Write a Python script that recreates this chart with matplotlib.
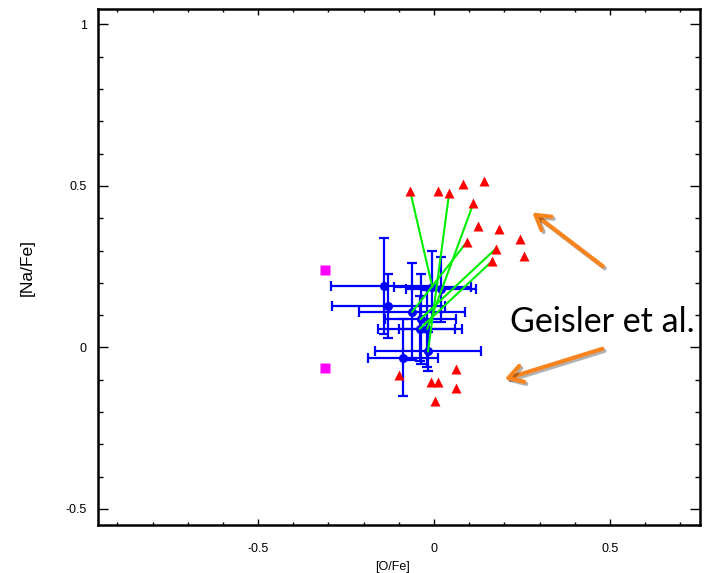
import matplotlib
matplotlib.use("Agg")
import matplotlib.pyplot as plt
import matplotlib.patheffects as pe
from matplotlib.ticker import MultipleLocator

# Geisler et al. stars (red triangles)
geisler_ofe = [-0.068, 0.012, 0.043, 0.083, 0.143, 0.112, 0.124, 0.184, 0.093, 0.175,
               0.243, 0.255, 0.165, -0.099, -0.009, 0.012, 0.063, 0.063, 0.002]
geisler_nafe = [0.485, 0.485, 0.477, 0.506, 0.516, 0.446, 0.376, 0.366, 0.326, 0.305,
                0.336, 0.284, 0.267, -0.087, -0.107, -0.107, -0.067, -0.126, -0.167]

# this work (blue points with errors)
blue_ofe = [-0.142, -0.130, -0.062, -0.038, -0.040, -0.019, -0.017, -0.088, -0.005, 0.020]
blue_nafe = [0.190, 0.128, 0.110, 0.088, 0.058, 0.058, -0.012, -0.032, 0.188, 0.180]
blue_ofe_err = [0.15, 0.16, 0.15, 0.10, 0.12, 0.08, 0.15, 0.10, 0.11, 0.10]
blue_nafe_err = [0.15, 0.10, 0.15, 0.14, 0.10, 0.12, 0.06, 0.12, 0.11, 0.10]

# magenta squares
mag_ofe = [-0.31, -0.31]
mag_nafe = [0.239, -0.0625]

# same star in both samples: (blue index, geisler index)
links = [(8, 0), (6, 2), (5, 5), (2, 8), (3, 9), (4, 12)]

fig = plt.figure(figsize=(7.06, 5.73), dpi=100)
ax = fig.add_axes([0.1388, 0.0838, 0.8527, 0.9000])

for b, g in links:
    ax.plot([blue_ofe[b], geisler_ofe[g]], [blue_nafe[b], geisler_nafe[g]],
            color="#00ee00", lw=1.5, zorder=3)

ax.errorbar(blue_ofe, blue_nafe, xerr=blue_ofe_err, yerr=blue_nafe_err,
            fmt="o", color="#0000ff", ms=5.5, elinewidth=1.6, capsize=3.5,
            capthick=1.6, zorder=2)
ax.plot(geisler_ofe, geisler_nafe, "^", color="#ff0000", ms=6.5, mec="none", zorder=4)
ax.plot(mag_ofe, mag_nafe, "s", color="#ff00ff", ms=6.5, mec="none", zorder=4)

ax.set_xlim(-0.955, 0.756)
ax.set_ylim(-0.55, 1.047)

ax.set_xticks([-0.5, 0, 0.5])
ax.set_xticklabels(["-0.5", "0", "0.5"])
ax.set_yticks([-0.5, 0, 0.5, 1])
ax.set_yticklabels(["-0.5", "0", "0.5", "1"])
ax.xaxis.set_minor_locator(MultipleLocator(0.1))
ax.yaxis.set_minor_locator(MultipleLocator(0.1))
ax.tick_params(axis="both", which="both", direction="in", top=True, right=True,
               width=1, labelsize=9)
ax.tick_params(axis="x", which="major", length=4.5, pad=13)
ax.tick_params(axis="x", which="minor", length=2.2)
ax.tick_params(axis="y", which="major", length=7.2, pad=8)
ax.tick_params(axis="y", which="minor", length=3.6)
for lab in ax.get_xticklabels() + ax.get_yticklabels():
    lab.set_family("Liberation Sans")
for s in ax.spines.values():
    s.set_linewidth(1.8)

ax.set_xlabel("[O/Fe]", family="Liberation Sans", fontsize=9)
ax.xaxis.set_label_coords(0.49, -0.07)
ax.set_ylabel("[Na/Fe]", family=["Liberation Sans Narrow", "Liberation Sans"],
              fontsize=12.5)
ax.yaxis.set_label_coords(-0.105, 0.5)

arrow_kw = dict(arrowstyle="->,head_length=1.0,head_width=0.6", color="#f7841e", lw=3,
                path_effects=[pe.SimpleLineShadow(offset=(1.5, -1.5), alpha=0.3),
                              pe.Normal()])
ax.annotate("", xy=(0.273, 0.423), xytext=(0.486, 0.246), arrowprops=arrow_kw)
ax.annotate("", xy=(0.193, -0.101), xytext=(0.486, -0.002), arrowprops=arrow_kw)
ax.text(0.216, 0.079, "Geisler et al.", family="Lato", fontsize=24.5,
        ha="left", va="center", color="black")

fig.savefig("out.png", dpi=100)
